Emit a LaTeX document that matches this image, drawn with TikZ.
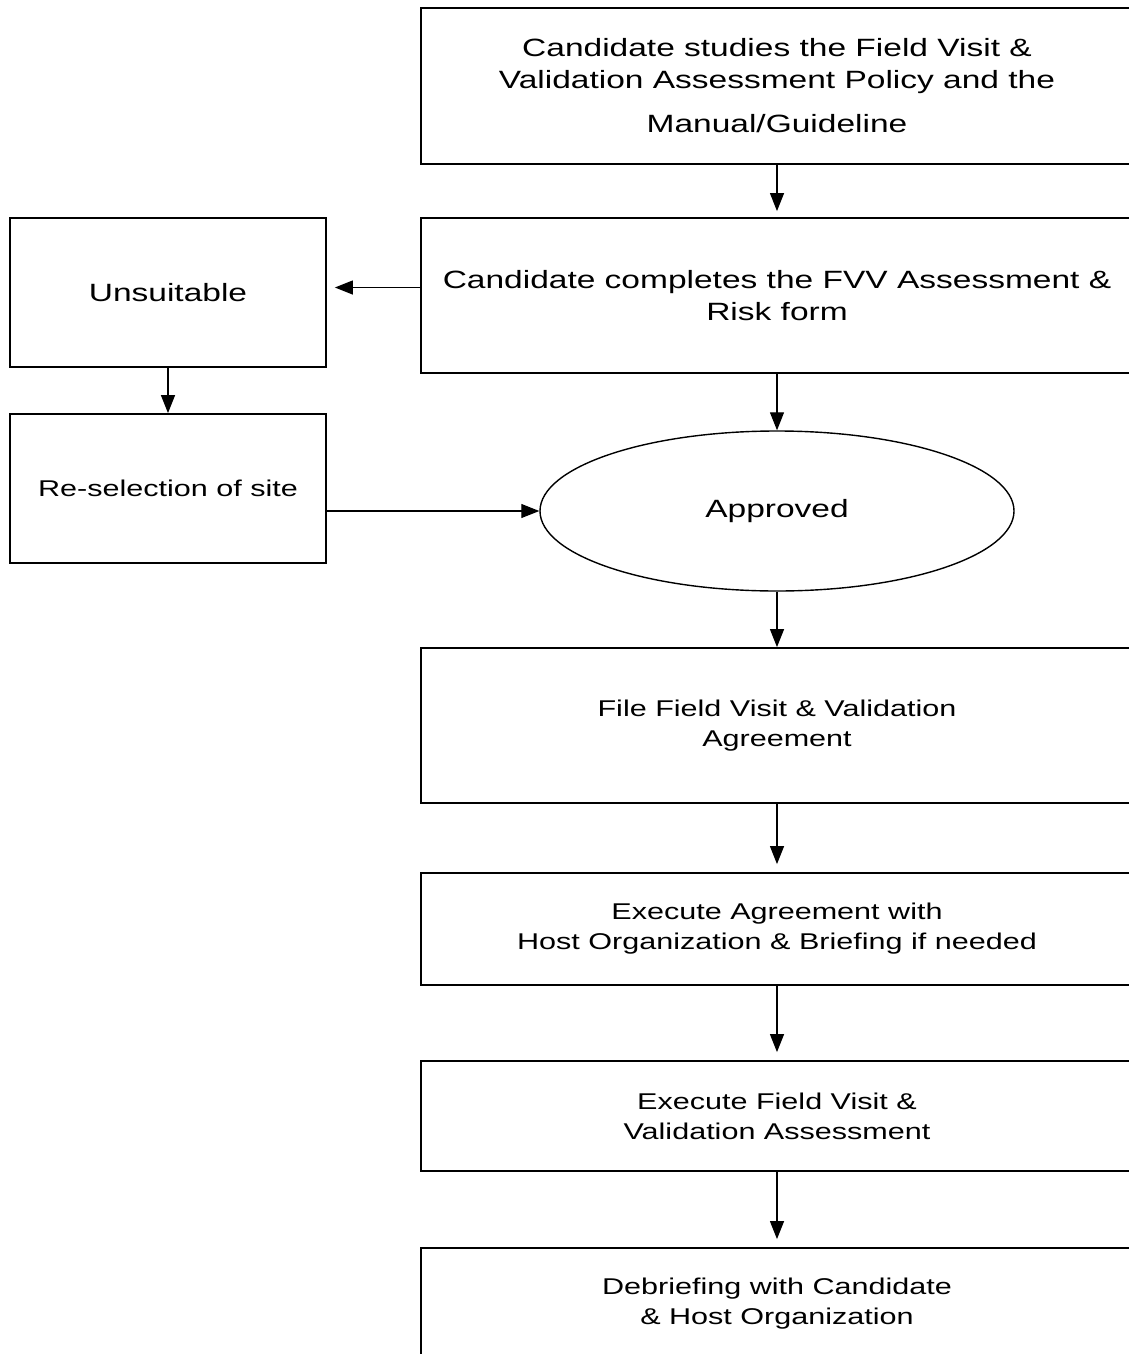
\documentclass[tikz,border=0pt]{standalone}
\usepackage{fontspec}
\newfontfamily\flowfont{Liberation Sans}[FakeStretch=1.34]
\usetikzlibrary{arrows.meta,shapes.geometric}

\begin{document}
\begin{tikzpicture}[x=0.5pt,y=-0.5pt,
    big/.style={font=\flowfont\fontsize{12.5}{16}\selectfont,align=center},
    small/.style={font=\flowfont\fontsize{11.4}{15}\selectfont,align=center},
    box/.style={shape=rectangle,draw=black,line width=0.9pt,inner sep=0pt},
    flow/.style={-{Triangle[length=9pt,width=7pt]},line width=0.6pt}]
    \useasboundingbox (0,0) rectangle (1129,1354);
    \clip (0,0) rectangle (1129,1354);
    % right column
    \node[box,big,minimum width=356pt,minimum height=78pt] (pol) at (777,86) {Candidate studies the Field Visit \&\\Validation Assessment Policy and the\\[6pt]Manual/Guideline};
    \node[box,big,minimum width=356pt,minimum height=77.5pt] (fvv) at (777,295.5) {Candidate completes the FVV Assessment \&\\Risk form};
    \node[shape=ellipse,draw=black,line width=0.7pt,big,minimum width=237pt,minimum height=80pt] (ap) at (777,511) {Approved};
    \node[box,small,minimum width=356pt,minimum height=77.5pt] (fa) at (777,725.5) {File Field Visit \& Validation\\Agreement};
    \node[box,small,minimum width=356pt,minimum height=56pt] (ea) at (777,929) {Execute Agreement with\\Host Organization \& Briefing if needed};
    \node[box,small,minimum width=356pt,minimum height=55pt] (ev) at (777,1116) {Execute Field Visit \&\\Validation Assessment};
    \node[box,small,minimum width=356pt,minimum height=56pt] (db) at (777,1304) {Debriefing with Candidate\\\& Host Organization};
    % left column
    \node[box,big,minimum width=158pt,minimum height=74.5pt] (u) at (168,292.5) {Unsuitable};
    \node[box,small,minimum width=158pt,minimum height=74.5pt] (rs) at (168,488.5) {Re-selection of site};

    \path [flow,shorten >=3pt] (pol) edge (fvv);
    \path [flow] (fvv) edge (ap);
    \path [flow] (ap) edge (fa);
    \path [flow,shorten >=4pt] (fa) edge (ea);
    \path [flow,shorten >=4pt] (ea) edge (ev);
    \path [flow,shorten >=4pt] (ev) edge (db);
    \path [flow,shorten >=4pt] ([yshift=4pt]fvv.west) edge ([yshift=4pt]fvv.west -| u.east);
    \path [flow] (u) edge (rs);
    \path [flow] (rs.east |- ap.west) edge (ap.west);
\end{tikzpicture}
\end{document}
